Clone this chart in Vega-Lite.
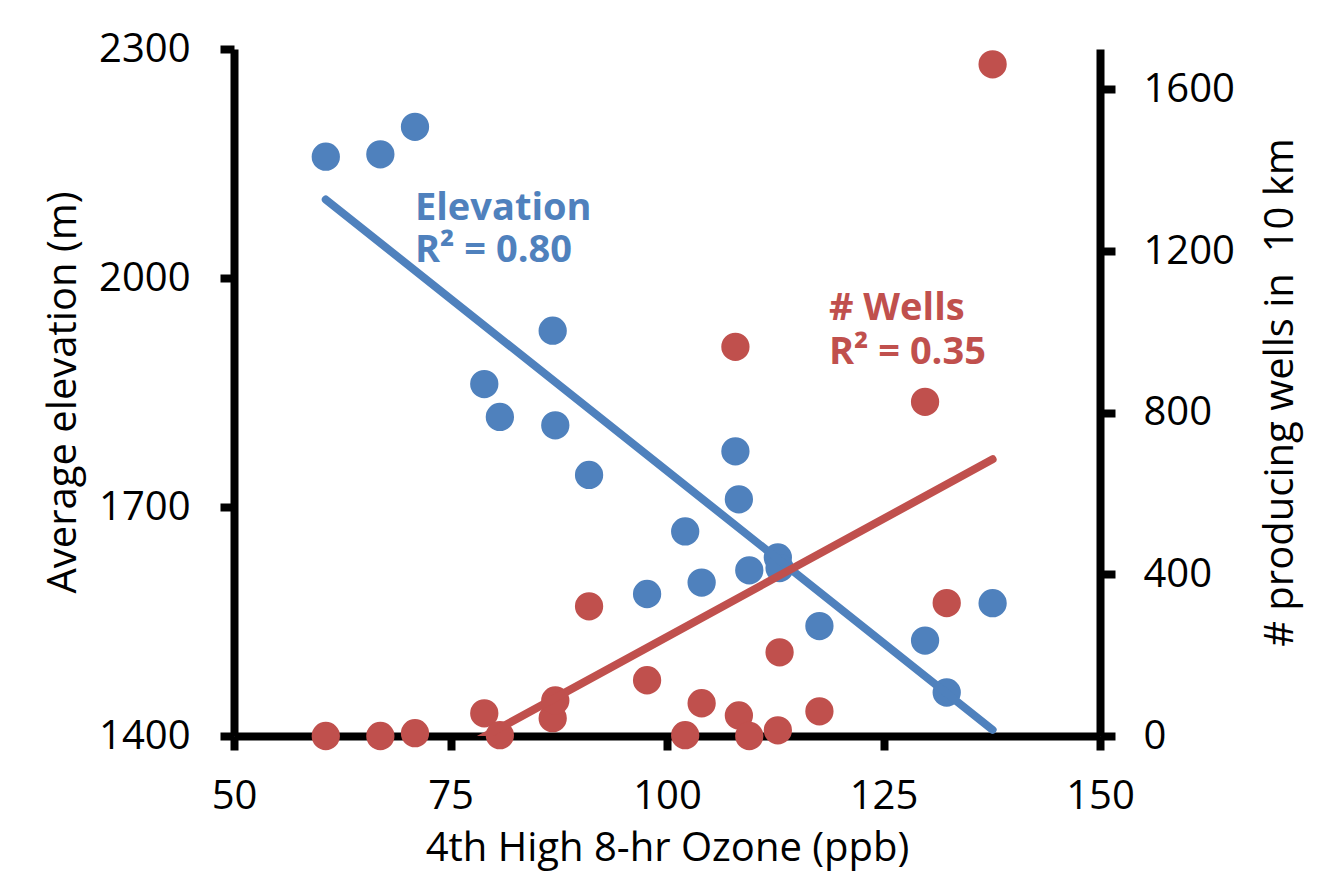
{
  "$schema": "https://vega.github.io/schema/vega-lite/v6.json",
  "width": 866,
  "height": 687,
  "autosize": {"type": "none"},
  "padding": {"left": 234, "top": 49, "right": 239, "bottom": 137},
  "background": "white",
  "config": {"view": {"stroke": null}, "font": "Open Sans"},
  "datasets": {
    "sites": [
      {"ozone": 60.6, "elevation": 2159, "wells": 0},
      {"ozone": 66.9, "elevation": 2162, "wells": 0},
      {"ozone": 70.9, "elevation": 2198, "wells": 7},
      {"ozone": 78.9, "elevation": 1861, "wells": 56},
      {"ozone": 80.7, "elevation": 1818, "wells": 2},
      {"ozone": 86.8, "elevation": 1931, "wells": 44},
      {"ozone": 87.1, "elevation": 1807, "wells": 88},
      {"ozone": 91.0, "elevation": 1742, "wells": 321},
      {"ozone": 97.7, "elevation": 1586, "wells": 138},
      {"ozone": 102.1, "elevation": 1668, "wells": 2},
      {"ozone": 104.0, "elevation": 1601, "wells": 81},
      {"ozone": 107.9, "elevation": 1773, "wells": 963},
      {"ozone": 108.3, "elevation": 1710, "wells": 51},
      {"ozone": 109.5, "elevation": 1617, "wells": 0},
      {"ozone": 112.8, "elevation": 1634, "wells": 14},
      {"ozone": 113.0, "elevation": 1620, "wells": 207},
      {"ozone": 117.6, "elevation": 1544, "wells": 61},
      {"ozone": 129.8, "elevation": 1525, "wells": 827},
      {"ozone": 132.3, "elevation": 1457, "wells": 329},
      {"ozone": 137.6, "elevation": 1574, "wells": 1662}
    ]
  },
  "encoding": {
    "x": {
      "field": "ozone",
      "type": "quantitative",
      "scale": {"domain": [50, 150], "nice": false, "zero": false},
      "axis": {
        "values": [50, 75, 100, 125, 150],
        "format": "d",
        "title": "4th High 8-hr Ozone (ppb)",
        "grid": false,
        "domainColor": "black",
        "domainWidth": 8,
        "tickColor": "black",
        "tickWidth": 8,
        "tickSize": 14,
        "labelFont": "Open Sans",
        "labelFontSize": 40,
        "labelColor": "black",
        "labelPadding": 26,
        "labelFlush": false,
        "labelOverlap": false,
        "titleFont": "Open Sans",
        "titleFontSize": 40,
        "titleFontWeight": "normal",
        "titleColor": "black",
        "titleBaseline": "alphabetic",
        "titleAlign": "center",
        "titleX": 433,
        "titleY": 124
      }
    }
  },
  "layer": [
    {
      "encoding": {
        "y": {
          "field": "elevation",
          "type": "quantitative",
          "scale": {"domain": [1400, 2300], "nice": false, "zero": false},
          "axis": {
            "orient": "left",
            "values": [1400, 1700, 2000, 2300],
            "format": "d",
            "title": "Average elevation (m)",
            "grid": false,
            "domainColor": "black",
            "domainWidth": 8,
            "tickColor": "black",
            "tickWidth": 8,
            "tickSize": 14,
            "labelFont": "Open Sans",
            "labelFontSize": 40,
            "labelColor": "black",
            "labelPadding": 30,
            "labelOverlap": false,
            "labelFlush": false,
            "titleFont": "Open Sans",
            "titleFontSize": 40,
            "titleFontWeight": "normal",
            "titleColor": "black",
            "titleAngle": 270,
            "titleBaseline": "alphabetic",
            "titleAlign": "center",
            "titleX": -159,
            "titleY": 343
          }
        }
      },
      "layer": [
        {
          "data": {"name": "sites"},
          "mark": {"type": "point", "shape": "circle", "filled": true, "size": 800, "color": "#4F81BD", "opacity": 1}
        },
        {
          "data": {"name": "sites"},
          "transform": [{"regression": "elevation", "on": "ozone"}],
          "mark": {"type": "line", "color": "#4F81BD", "strokeWidth": 8, "strokeCap": "round", "clip": true}
        },
        {
          "data": {"values": [{"ozone": 70.9, "elevation": 2076, "label": "Elevation\nR² = 0.80"}]},
          "mark": {"type": "text", "font": "Open Sans", "fontWeight": "bold", "fontSize": 38, "align": "left", "baseline": "alphabetic", "lineBreak": "\n", "lineHeight": 42, "color": "#4F81BD"},
          "encoding": {"text": {"field": "label"}}
        }
      ]
    },
    {
      "encoding": {
        "y": {
          "field": "wells",
          "type": "quantitative",
          "scale": {"domain": [0, 1700], "nice": false},
          "axis": {
            "orient": "right",
            "values": [0, 400, 800, 1200, 1600],
            "format": "d",
            "title": "# producing wells in\u00a0 10 km",
            "grid": false,
            "domainColor": "black",
            "domainWidth": 8,
            "tickColor": "black",
            "tickWidth": 8,
            "tickSize": 15,
            "labelFont": "Open Sans",
            "labelFontSize": 40,
            "labelColor": "black",
            "labelPadding": 28,
            "labelOverlap": false,
            "labelFlush": false,
            "titleFont": "Open Sans",
            "titleFontSize": 40,
            "titleFontWeight": "normal",
            "titleColor": "black",
            "titleAngle": 270,
            "titleBaseline": "alphabetic",
            "titleAlign": "center",
            "titleX": 192,
            "titleY": 343
          }
        }
      },
      "layer": [
        {
          "data": {"name": "sites"},
          "mark": {"type": "point", "shape": "circle", "filled": true, "size": 800, "color": "#C0504D", "opacity": 1}
        },
        {
          "data": {"name": "sites"},
          "transform": [{"regression": "wells", "on": "ozone"}],
          "mark": {"type": "line", "color": "#C0504D", "strokeWidth": 8, "strokeCap": "round", "clip": true}
        },
        {
          "data": {"values": [{"ozone": 118.7, "wells": 1030, "label": "# Wells\nR² = 0.35"}]},
          "mark": {"type": "text", "font": "Open Sans", "fontWeight": "bold", "fontSize": 38, "align": "left", "baseline": "alphabetic", "lineBreak": "\n", "lineHeight": 44, "color": "#C0504D"},
          "encoding": {"text": {"field": "label"}}
        }
      ]
    }
  ],
  "resolve": {"scale": {"y": "independent"}, "axis": {"y": "independent"}}
}
